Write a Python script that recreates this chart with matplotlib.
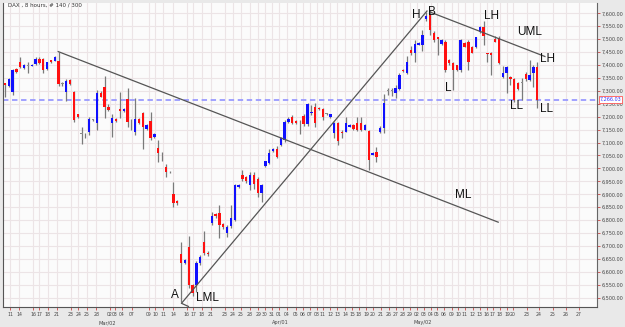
import matplotlib
matplotlib.use("Agg")
import matplotlib.pyplot as plt
import numpy as np

# ---------------- data ----------------
opens = [7330, 7320, 7297, 7383, 7410, 7390, 7398, 7398, 7404, 7425,
         7425, 7383, 7418, 7417, 7417, 7330, 7297, 7342, 7297, 7210,
         7137, 7132, 7142, 7188, 7177, 7290, 7314, 7236, 7175, 7192,
         7229, 7223, 7267, 7188, 7142, 7191, 7213, 7151, 7183, 7120,
         7080, 7062, 7004, 6988, 6901, 6874, 6670, 6636, 6697, 6549,
         6549, 6633, 6716, 6672, 6788, 6824, 6828, 6785, 6750, 6777,
         6800, 6930, 6975, 6965, 6936, 6975, 6958, 6906, 7010, 7022,
         7068, 7077, 7091, 7110, 7180, 7200, 7185, 7178, 7203, 7172,
         7213, 7239, 7233, 7229, 7210, 7200, 7136, 7177, 7142, 7142,
         7162, 7168, 7174, 7177, 7149, 7146, 7053, 7065, 7142, 7155,
         7299, 7299, 7293, 7306, 7381, 7368, 7458, 7448, 7478, 7478,
         7577, 7593, 7522, 7507, 7483, 7490, 7419, 7409, 7400, 7381,
         7487, 7490, 7471, 7471, 7529, 7546, 7445, 7448, 7500, 7503,
         7352, 7368, 7355, 7345, 7329, 7330, 7366, 7342, 7370, 7393]
highs = [7332, 7348, 7383, 7388, 7430, 7405, 7412, 7404, 7432, 7430,
         7428, 7412, 7420, 7434, 7452, 7333, 7345, 7345, 7300, 7212,
         7160, 7138, 7200, 7192, 7303, 7300, 7358, 7250, 7210, 7195,
         7297, 7234, 7312, 7192, 7271, 7194, 7219, 7170, 7220, 7136,
         7110, 7065, 7017, 6990, 6949, 6878, 6715, 6650, 6738, 6552,
         6640, 6665, 6759, 6680, 6830, 6828, 6859, 6790, 6780, 6860,
         6940, 6940, 6995, 6970, 6988, 6985, 6965, 6940, 7030, 7075,
         7080, 7088, 7120, 7187, 7200, 7205, 7188, 7187, 7210, 7255,
         7245, 7255, 7236, 7233, 7215, 7212, 7180, 7181, 7150, 7200,
         7170, 7170, 7200, 7200, 7170, 7149, 7063, 7083, 7165, 7287,
         7311, 7311, 7322, 7370, 7384, 7435, 7475, 7497, 7488, 7535,
         7605, 7613, 7530, 7510, 7500, 7495, 7425, 7412, 7402, 7500,
         7490, 7497, 7474, 7510, 7550, 7572, 7447, 7450, 7512, 7512,
         7396, 7395, 7357, 7349, 7335, 7350, 7373, 7419, 7400, 7413]
lows = [7275, 7315, 7283, 7370, 7387, 7385, 7370, 7396, 7400, 7405,
        7368, 7380, 7408, 7414, 7319, 7320, 7262, 7322, 7180, 7195,
        7095, 7118, 7128, 7185, 7148, 7276, 7195, 7222, 7122, 7180,
        7194, 7220, 7159, 7150, 7129, 7172, 7074, 7148, 7110, 7118,
        7026, 7030, 6966, 6983, 6852, 6860, 6482, 6630, 6536, 6505,
        6523, 6628, 6665, 6660, 6780, 6810, 6731, 6765, 6735, 6770,
        6795, 6926, 6950, 6945, 6917, 6920, 6890, 6872, 7005, 7018,
        7065, 7040, 7088, 7104, 7176, 7170, 7172, 7133, 7165, 7165,
        7205, 7162, 7226, 7188, 7205, 7196, 7118, 7091, 7118, 7140,
        7160, 7148, 7146, 7143, 7147, 6994, 7050, 7025, 7138, 7138,
        7283, 7280, 7272, 7304, 7372, 7365, 7440, 7410, 7476, 7455,
        7570, 7515, 7490, 7437, 7478, 7374, 7400, 7303, 7378, 7374,
        7468, 7381, 7445, 7465, 7524, 7477, 7413, 7361, 7488, 7404,
        7349, 7290, 7323, 7258, 7303, 7265, 7340, 7340, 7316, 7232]
closes = [7322, 7345, 7380, 7373, 7394, 7400, 7400, 7402, 7425, 7409,
          7380, 7410, 7411, 7430, 7326, 7328, 7339, 7325, 7187, 7198,
          7135, 7135, 7191, 7187, 7290, 7278, 7236, 7226, 7195, 7183,
          7222, 7231, 7180, 7186, 7191, 7175, 7159, 7168, 7117, 7133,
          7058, 7064, 6987, 6985, 6867, 6865, 6635, 6646, 6549, 6517,
          6633, 6659, 6672, 6668, 6814, 6814, 6781, 6775, 6774, 6810,
          6935, 6936, 6958, 6950, 6975, 6940, 6906, 6936, 7028, 7061,
          7077, 7045, 7117, 7180, 7193, 7175, 7175, 7179, 7172, 7251,
          7220, 7177, 7229, 7198, 7211, 7210, 7177, 7107, 7136, 7174,
          7168, 7151, 7149, 7149, 7168, 7033, 7061, 7043, 7155, 7252,
          7301, 7301, 7310, 7361, 7375, 7413, 7448, 7481, 7485, 7516,
          7590, 7535, 7497, 7500, 7495, 7381, 7407, 7381, 7381, 7497,
          7471, 7413, 7448, 7507, 7546, 7512, 7441, 7439, 7490, 7407,
          7370, 7391, 7345, 7265, 7306, 7332, 7345, 7361, 7393, 7266.03]

last_price = 7266.03
last_label = "7,266.03"

date_labels = ["11", "14", "16", "17", "18", "21", "23", "24", "25", "28",
               "02", "03", "04", "07", "09", "10", "11", "14", "16", "17",
               "18", "21", "23", "24", "25", "28", "29", "30", "31", "01",
               "04", "05", "06", "07", "08", "11", "12", "13", "14", "15",
               "18", "19", "20", "21", "26", "27", "28", "29", "02", "03",
               "04", "05", "06", "09", "10", "11", "12", "13", "16", "17",
               "18", "19", "20", "23", "24", "25", "26", "27"]
date_pos = [1.3, 3.7, 7.3, 8.9, 11.2, 13.6, 17.2, 19.1, 21.4, 23.8,
            27.4, 28.7, 30.5, 33.2, 37.6, 39.2, 41.3, 43.9, 47.5, 49.1,
            51.4, 53.8, 57.4, 59.5, 61.6, 64.0, 66.1, 67.9, 69.7, 71.5,
            73.6, 76.0, 77.8, 79.6, 81.5, 83.0, 84.9, 86.7, 88.8, 90.6,
            92.4, 94.3, 96.1, 98.2, 100.3, 102.1, 103.9, 105.7, 107.6, 109.4,
            111.2, 112.8, 114.6, 116.7, 118.3, 120.1, 122.2, 124.0, 125.8, 127.4,
            129.2, 131.1, 132.6, 136.2, 139.4, 143.1, 146.5, 149.9]
month_labels = ["Mar/02", "Apr/01", "May/02"]
month_pos = [26.6, 71.8, 109.1]

price_ticks = list(range(6500, 7601, 50))

# trend / pitchfork lines (bar index, price)
ml_line = ([13.9, 128.8], [7452, 6792])
ah_line = ([46.2, 110.2], [6480, 7609])
uml_line = ([111.0, 141.0], [7605, 7433])
lml_line = ([46.1, 47.9], [6478, 6466])

annotations = [("A", 44.4, 6510), ("LML", 52.8, 6497), ("H", 107.3, 7593),
               ("B", 111.6, 7605), ("LH", 127.1, 7590), ("UML", 137.1, 7529),
               ("LH", 141.6, 7422), ("L", 115.7, 7310), ("LL", 133.6, 7241),
               ("LL", 141.3, 7231), ("ML", 119.7, 6897)]

# ---------------- drawing ----------------
W, H = 625, 327
fig = plt.figure(figsize=(W / 100, H / 100), dpi=100, facecolor="#e9e9e9")
ax = fig.add_axes([3 / W, 1 - 306.7 / H, 594 / W, 303.7 / H])
ax.set_facecolor("#fbfbfb")
ax.set_xlim(-0.52, 154.6)
ax.set_ylim(6465, 7640)

# grid
for x in date_pos:
    ax.axvline(x, color="#ece4e6", lw=0.8, zorder=0)
for y in price_ticks:
    ax.axhline(y, color="#ece4e6", lw=0.8, zorder=0)

idx = np.arange(len(opens))
o = np.array(opens, float)
c = np.array(closes, float)
hi = np.array(highs, float)
lo = np.array(lows, float)

ax.vlines(idx, lo, hi, color="#7a7a7a", lw=0.9, zorder=2)
colors = []
for oo, cc in zip(o, c):
    if abs(cc - oo) < 3:
        colors.append("#8a8a8a")
    elif cc > oo:
        colors.append("#1010ff")
    else:
        colors.append("#ff1010")
bottoms = np.minimum(o, c)
heights = np.maximum(np.abs(c - o), 3)
ax.bar(idx, heights, bottom=bottoms, width=0.62, color=colors, linewidth=0, zorder=3)

# current price line
ax.axhline(last_price, color="#9a9aff", lw=1.3, dashes=(3, 2), zorder=1)

# trend lines
for xs, ys in (ml_line, ah_line, uml_line, lml_line):
    ax.plot(xs, ys, color="#555555", lw=0.9, zorder=4)

for txt, xx, yy in annotations:
    ax.text(xx, yy, txt, fontsize=8.5, family="Liberation Sans",
            ha="center", va="center", color="#111111", zorder=5)

# axes styling
ax.spines["top"].set_visible(False)
ax.spines["left"].set_color("#555555")
ax.spines["bottom"].set_color("#555555")
ax.spines["right"].set_color("#666666")

ax.yaxis.tick_right()
ax.set_yticks(price_ticks)
ax.set_yticklabels([f"{p:,.2f}" for p in price_ticks])
ax.tick_params(axis="y", length=2, width=0.6, color="#cc4444", pad=1,
               labelsize=3.5, labelcolor="#444444")
ax.set_xticks(date_pos)
ax.set_xticklabels(date_labels)
ax.tick_params(axis="x", length=2, width=0.6, color="#cc4444", pad=2,
               labelsize=3.3, labelcolor="#444444")
for lab in ax.get_xticklabels() + ax.get_yticklabels():
    lab.set_family("DejaVu Sans")

for m, xp in zip(month_labels, month_pos):
    ax.text(xp, -0.045, m, transform=ax.get_xaxis_transform(), fontsize=3.6,
            ha="center", va="top", color="#444444")

# last price box
ax.text(1.004, last_price, last_label, transform=ax.get_yaxis_transform(),
        fontsize=3.5, color="#3333ff", ha="left", va="center",
        bbox=dict(boxstyle="square,pad=0.15", fc="white", ec="#ff5555", lw=0.6),
        zorder=6, clip_on=False)

fig.text(8 / W, 1 - 5 / H, "DAX , 8 hours, # 140 / 300", fontsize=4.0,
         color="#333333", ha="left", va="center")

fig.savefig("out.png", dpi=100, facecolor=fig.get_facecolor())
